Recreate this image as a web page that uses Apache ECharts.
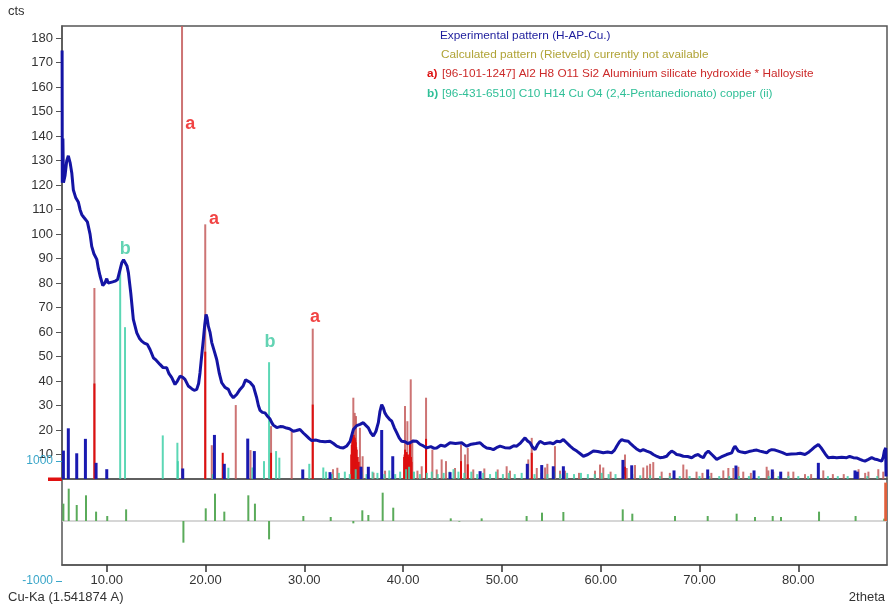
<!DOCTYPE html>
<html>
<head>
<meta charset="utf-8">
<title>XRD pattern H-AP-Cu</title>
<script src="https://cdn.jsdelivr.net/npm/echarts@6/dist/echarts.min.js"></script>
<style>
  html, body { margin: 0; padding: 0; background: #fff; }
  #chart { width: 891px; height: 609px; }
</style>
</head>
<body>
<div id="chart"></div>
<script>
// tick labels
const xTicks = [10, 20, 30, 40, 50, 60, 70, 80];
const yTicks = [10, 20, 30, 40, 50, 60, 70, 80, 90, 100, 110, 120, 130, 140, 150, 160, 170, 180];
const diffTicks = [-1000, 1000];

// experimental pattern [2theta, cts]
const experimental = [
  [5.48, 175], [5.5, 121], [5.56, 139], [5.62, 121], [5.78, 124], [5.95, 130], [6.11, 132], [6.3, 129],
  [6.46, 125], [6.62, 118], [6.85, 115], [7.13, 113], [7.3, 110], [7.47, 108], [7.65, 107], [7.8, 107],
  [8.04, 105], [8.31, 100], [8.48, 95], [8.7, 92], [8.99, 89.7], [9.15, 86], [9.32, 83], [9.6, 79],
  [9.8, 80], [10.0, 81.8], [10.15, 80], [10.33, 80.2], [10.6, 80.5], [10.84, 80.8], [11.1, 81.5],
  [11.28, 82.2], [11.52, 88.3], [11.7, 89.5], [11.85, 89.4], [12.05, 87], [12.19, 84.3], [12.43, 76],
  [12.69, 65.2], [13.04, 59.7], [13.3, 57.5], [13.54, 56.3], [13.8, 55.5], [14.11, 55], [14.38, 52.9],
  [14.72, 49.5], [15.0, 48.5], [15.39, 46.8], [15.7, 45.5], [16.07, 45.4], [16.3, 43], [16.58, 41.4],
  [16.91, 38.6], [17.15, 40], [17.42, 42], [17.7, 41.5], [17.92, 40.7], [18.25, 38], [18.6, 36.9],
  [18.85, 36.2], [19.11, 36.6], [19.3, 39], [19.44, 43.4], [19.6, 50], [19.78, 57], [19.92, 63],
  [20.05, 67.2], [20.15, 66], [20.28, 62.4], [20.45, 60], [20.63, 55.7], [20.9, 52], [21.13, 48.8],
  [21.4, 43], [21.64, 39.3], [21.95, 37.5], [22.31, 36.6], [22.55, 34.5], [22.81, 33.2], [23.15, 34.5],
  [23.49, 36.6], [23.8, 38], [24.05, 40.5], [24.23, 40.7], [24.5, 39.5], [24.84, 37.9], [25.17, 33.3],
  [25.35, 30], [25.52, 28], [25.75, 27.2], [26.02, 27], [26.3, 25.5], [26.53, 24.5], [26.7, 23],
  [26.86, 22], [27.21, 21], [27.55, 21.4], [27.87, 21.3], [28.2, 20.8], [28.5, 20.5], [28.89, 19.5],
  [29.2, 19.8], [29.56, 20.2], [29.9, 18.8], [30.24, 17.5], [30.5, 16.5], [30.75, 15.7], [31.2, 15.9],
  [31.59, 15.4], [32.1, 15.2], [32.6, 15.4], [32.95, 14.5], [33.28, 13.4], [33.6, 12.9], [33.95, 12.7],
  [34.3, 13.5], [34.63, 15.4], [34.96, 20.2], [35.3, 21.8], [35.64, 22.3], [35.97, 23], [36.2, 22],
  [36.48, 20.9], [36.7, 19], [36.98, 17.5], [37.25, 19.5], [37.49, 23], [37.65, 27.5], [37.83, 30.4],
  [38.0, 29], [38.15, 27], [38.34, 25.7], [38.6, 24.5], [38.85, 23.6], [39.1, 21], [39.35, 18.9],
  [39.6, 16.8], [39.86, 15.4], [40.2, 15.2], [40.45, 14.5], [40.7, 14.8], [41.0, 15.5], [41.38, 15.4],
  [41.7, 14.2], [42.05, 13.5], [42.39, 12.7], [42.8, 13.2], [43.1, 12.6], [43.4, 12.7], [43.8, 13.8],
  [44.24, 13.4], [44.75, 14.8], [45.3, 14.5], [45.93, 14.8], [46.2, 14], [46.44, 13.4], [46.9, 14.2],
  [47.35, 14.5], [47.79, 14.8], [48.1, 13.6], [48.46, 12.7], [48.8, 12.5], [49.13, 12], [49.45, 12.8],
  [49.81, 13.4], [50.3, 12.8], [50.82, 12.7], [51.2, 13.6], [51.5, 13.4], [51.9, 14.8], [52.34, 16.8],
  [52.6, 15.5], [52.85, 14.8], [53.1, 13], [53.35, 12], [53.6, 14], [53.86, 15.4], [54.3, 14.4],
  [54.87, 14.8], [55.2, 14.4], [55.55, 15.4], [55.9, 15.2], [56.22, 16.1], [56.5, 15], [56.9, 13.4],
  [57.2, 12.4], [57.58, 11.4], [57.9, 10.4], [58.25, 9.3], [58.7, 10], [59.26, 11.4], [59.7, 11.2],
  [60.26, 10.7], [60.7, 11], [61.11, 10.7], [61.4, 11.8], [61.62, 13.4], [61.9, 15.2], [62.13, 16.1],
  [62.45, 15.6], [62.79, 15.4], [63.05, 14.3], [63.3, 13.4], [63.6, 12.4], [63.98, 11.4], [64.3, 12],
  [64.66, 11.4], [65.0, 10.9], [65.32, 10], [65.7, 9.2], [66.0, 8.7], [66.35, 8.9], [66.68, 9.3],
  [66.95, 10.6], [67.18, 11.4], [67.45, 10.8], [67.69, 10], [68.0, 9.8], [68.36, 9.3], [68.8, 9.2],
  [69.21, 8.7], [69.55, 9.6], [69.88, 10], [70.1, 9.2], [70.39, 8.7], [70.65, 10.6], [70.89, 11.4],
  [71.3, 9.8], [71.74, 8], [72.2, 9], [72.75, 10], [73.26, 10.7], [73.45, 12.5], [73.59, 13.4],
  [73.93, 11.4], [74.25, 11], [74.61, 10.7], [75.0, 11.2], [75.45, 11.6], [75.8, 11.8], [76.12, 11.4],
  [76.5, 11], [76.8, 10.7], [77.05, 11.6], [77.31, 12], [77.65, 11.8], [77.97, 11.4], [78.4, 10.8],
  [78.82, 10], [79.3, 10.2], [79.84, 10.3], [80.2, 10.5], [80.68, 10], [81.0, 10.8], [81.36, 12],
  [81.7, 13.2], [82.03, 14.1], [82.3, 12.8], [82.54, 11.4], [82.8, 9.8], [83.04, 8.7], [83.5, 8.9],
  [83.89, 8.7], [84.4, 8.9], [84.9, 8.7], [85.2, 9.2], [85.57, 8.7], [85.9, 8.6], [86.25, 8],
  [86.5, 7.6], [86.75, 7.3], [87.1, 8], [87.43, 8.7], [87.7, 8.2], [87.94, 8], [88.2, 7.6],
  [88.44, 7.3], [88.6, 9], [88.71, 11.4], [88.85, 12.7], [88.88, 1]
];

// phase a (Halloysite) reference lines: full height and strong part
const haloysiteLines = [
  [8.75, 78], [17.62, 200], [19.97, 104], [20.63, 13.8], [23.06, 30.2], [24.55, 11.8], [26.63, 21.6],
  [28.72, 19.5], [30.85, 61.4], [32.9, 4], [33.34, 4.6], [34.96, 33.2], [35.1, 27], [35.23, 25.7],
  [35.63, 20.9], [35.9, 9.3], [37.0, 2.6], [38.17, 3.4], [40.19, 29.8], [40.43, 23.6], [40.77, 40.7],
  [40.93, 16.1], [41.45, 3.4], [41.88, 5.2], [42.32, 33.2], [42.96, 12], [43.4, 3.9], [43.9, 8],
  [44.34, 7.3], [45.25, 4.5], [45.86, 14.1], [46.27, 10], [46.54, 12.7], [47.1, 3.9], [48.22, 4.3],
  [49.57, 3.9], [50.48, 5.2], [50.82, 3.4], [52.67, 8], [53.02, 16.8], [53.53, 4.5], [54.37, 4.7],
  [54.6, 6.2], [55.37, 13.4], [55.88, 3.4], [56.39, 3.4], [57.8, 2.5], [59.42, 3.4], [59.93, 5.9],
  [60.26, 4.7], [61.0, 3], [62.46, 10], [62.63, 4.5], [63.47, 5.7], [64.31, 4.7], [64.7, 5.5],
  [65.0, 6.2], [65.32, 6.9], [66.17, 3], [67.0, 2.5], [68.36, 5.9], [68.7, 3.9], [69.7, 3],
  [70.3, 2.5], [71.2, 2.5], [72.41, 3.5], [72.92, 4.5], [73.43, 4.5], [73.93, 5], [74.43, 3],
  [75.2, 2.5], [76.8, 5], [76.97, 3.5], [77.47, 3], [78.99, 3], [79.5, 3], [80.68, 2], [81.3, 2],
  [82.53, 3.5], [83.5, 2], [84.6, 2], [86.1, 4], [86.77, 2.5], [87.1, 3], [88.1, 4], [88.6, 3]
];
const haloysiteStrong = [
  [8.75, 39], [19.97, 52], [21.74, 10.7], [26.63, 10.7], [30.85, 30.4], [34.75, 10], [34.8, 14],
  [34.85, 16], [34.9, 18], [34.95, 17], [35.0, 18], [35.05, 17], [35.1, 16.8], [35.15, 16],
  [35.2, 15], [35.25, 13], [35.3, 12], [35.4, 9], [35.5, 7], [35.7, 5], [40.1, 9], [40.15, 10],
  [40.2, 12], [40.25, 10], [40.3, 9.5], [40.35, 11], [40.4, 10], [40.5, 9], [40.6, 10], [40.7, 14.8],
  [40.8, 9], [40.85, 7], [42.32, 16.4], [45.86, 7.3], [46.54, 6], [53.02, 10.7], [62.46, 5]
];

// phase b (copper acetylacetonate) reference lines
const copperLines = [
  [11.36, 86], [11.85, 62], [15.67, 17.8], [17.15, 14.8], [17.2, 7.3], [20.73, 2], [22.31, 4.6],
  [24.74, 4.7], [25.92, 7.3], [26.43, 47.7], [27.14, 11.4], [27.47, 8.7], [30.5, 6.2], [31.92, 4.7],
  [32.2, 3], [32.8, 2], [33.5, 2.5], [34.1, 3], [34.6, 2], [35.2, 4], [35.8, 3], [36.3, 2], [36.9, 3],
  [37.4, 2.5], [38.1, 2], [38.6, 3.5], [39.2, 2], [39.7, 3], [40.3, 4], [40.6, 5], [41.1, 3],
  [41.7, 2], [42.4, 2.5], [42.9, 3], [43.5, 2], [44.1, 2.5], [44.7, 3], [45.1, 4], [45.6, 3],
  [46.2, 2.5], [46.9, 3], [47.5, 2], [48.1, 2.5], [48.8, 2], [49.4, 3], [50.1, 2], [50.7, 2.5],
  [51.3, 2], [52.0, 2.5], [52.6, 3], [53.3, 2], [54.0, 2.5], [54.6, 2], [55.3, 3], [55.9, 2],
  [56.6, 2.5], [57.3, 2], [58.0, 2.5], [58.7, 2], [59.4, 2], [60.1, 2.5], [60.8, 2], [61.5, 2],
  [62.3, 1.5], [63.2, 2], [64.0, 1.5], [65.0, 1.5], [66.0, 1.2], [67.0, 1.2], [68.0, 1.2],
  [69.0, 1.2], [70.0, 1.2], [71.0, 1.2], [72.0, 1.2], [73.0, 1.2], [74.0, 1.2], [75.0, 1.2],
  [76.0, 1.2], [77.0, 1.2], [78.0, 1.2], [79.0, 1.2], [80.0, 1.2], [81.0, 1.2], [82.0, 1.2],
  [83.0, 1.2], [84.0, 1.2], [85.0, 1.2], [86.0, 1.2], [87.0, 1.2], [88.0, 1.2]
];

// peak list of the measured pattern
const peakList = [
  [5.61, 11.6], [6.11, 20.7], [6.96, 10.5], [7.84, 16.4], [8.92, 6.6], [10.0, 4], [17.69, 4.3],
  [20.9, 18], [21.9, 6.2], [24.27, 16.5], [24.94, 11.4], [29.84, 3.9], [32.6, 2.8], [35.74, 5],
  [36.48, 5], [37.83, 20], [38.95, 9.3], [44.75, 2.8], [47.79, 3.2], [52.57, 6.2], [54.03, 5.7],
  [55.2, 5.2], [56.22, 5.2], [62.25, 7.8], [63.14, 5.6], [67.42, 3.5], [70.83, 3.9], [73.69, 5.5],
  [75.52, 3.5], [77.37, 3.9], [78.22, 3], [82.03, 6.6], [85.74, 3.5], [85.97, 3]
];

// lower panel: difference sticks
const diffLines = [
  [5.61, 289], [6.15, 539], [6.96, 267], [7.9, 428], [8.92, 156], [10.05, 83], [11.96, 194],
  [17.76, -361], [20.02, 211], [20.96, 456], [21.9, 156], [24.33, 428], [25.0, 289], [26.43, -306],
  [29.9, 83], [32.67, 67], [34.96, -39], [35.87, 178], [36.48, 100], [37.93, 472], [39.0, 222],
  [44.82, 44], [45.69, -11], [47.95, 44], [52.5, 83], [54.06, 139], [56.22, 150], [62.23, 194],
  [63.2, 122], [67.52, 83], [70.83, 83], [73.76, 122], [75.62, 67], [77.41, 83], [78.25, 67],
  [82.1, 156], [85.8, 83], [88.7, 39]
];
const diffEdge = [[88.85, 640]];

// phase labels on the plot
const phaseMarks = [
  [18.45, 145, 'a'], [20.86, 106, 'a'], [11.86, 94, 'b'], [26.53, 56, 'b'], [31.08, 66, 'a']
];

const X_MIN = 5.47, X_MAX = 88.98;
const FONT = 'Liberation Sans, Arial, sans-serif';

function sticks(width) {
  return function (params, api) {
    const p0 = api.coord([api.value(0), 0]);
    const p1 = api.coord([api.value(0), api.value(1)]);
    return {
      type: 'line',
      shape: { x1: p0[0], y1: p0[1], x2: p1[0], y2: p1[1] },
      style: { stroke: api.visual('color'), lineWidth: width }
    };
  };
}

function stickSeries(name, data, color, width, z, gridIdx) {
  return {
    name: name,
    type: 'custom',
    xAxisIndex: gridIdx || 0,
    yAxisIndex: gridIdx || 0,
    data: data,
    encode: { x: 0, y: 1 },
    clip: true,
    z: z,
    itemStyle: { color: color },
    renderItem: sticks(width),
    silent: true
  };
}

const chart = echarts.init(document.getElementById('chart'));

const option = {
  animation: false,
  textStyle: { fontFamily: FONT },
  grid: [
    { left: 62, right: 4, top: 26, bottom: 130, show: true, borderColor: '#555', borderWidth: 1.5 },
    { left: 62, right: 4, top: 479, bottom: 44, show: true, borderColor: '#555', borderWidth: 1.5 },
    { left: 62, right: 4, top: 461, bottom: 28 }
  ],
  xAxis: [
    { type: 'value', gridIndex: 0, min: X_MIN, max: X_MAX, axisLine: { show: false },
      axisTick: { show: false }, axisLabel: { show: false }, splitLine: { show: false } },
    { type: 'value', gridIndex: 1, min: X_MIN, max: X_MAX, position: 'bottom',
      axisLine: { show: true, onZero: false, lineStyle: { color: '#555', width: 1.5 } },
      axisTick: { show: true, length: 7, customValues: xTicks,
        lineStyle: { color: '#333', width: 1.5 } },
      axisLabel: { show: true, customValues: xTicks, color: '#333', fontSize: 13, margin: 9,
        formatter: function (v) { return v.toFixed(2); } },
      splitLine: { show: false } },
    { type: 'value', gridIndex: 2, min: X_MIN, max: X_MAX, show: false }
  ],
  yAxis: [
    { type: 'value', gridIndex: 0, min: 0, max: 185,
      axisLine: { show: true, lineStyle: { color: '#555', width: 1.5 } },
      axisTick: { show: true, length: 6, customValues: yTicks, lineStyle: { color: '#555' } },
      axisLabel: { customValues: yTicks, color: '#333', fontSize: 13, margin: 9 },
      splitLine: { show: false } },
    { type: 'value', gridIndex: 1, min: 0, max: 1, show: false },
    { type: 'value', gridIndex: 2, min: -1000, max: 1000,
      axisLine: { show: false },
      axisTick: { show: true, length: 6, customValues: diffTicks, lineStyle: { color: '#3aa6c9' } },
      axisLabel: { customValues: diffTicks, color: '#3aa6c9', fontSize: 12, margin: 9,
        formatter: function (v) { return String(v); } },
      splitLine: { show: false } }
  ],
  graphic: [
    { type: 'text', left: 8, top: 5, style: { text: 'cts', fill: '#333', font: '13px ' + FONT } },
    { type: 'text', left: 8, top: 591, style: { text: 'Cu-Ka (1.541874 A)', fill: '#333', font: '13px ' + FONT } },
    { type: 'text', right: 6, top: 591, style: { text: '2theta', fill: '#333', font: '13px ' + FONT } },
    { type: 'rect', shape: { x: 48, y: 477.5, width: 14, height: 3.5 }, style: { fill: '#e01010' } },
    { type: 'text', left: 440, top: 30, style: { text: 'Experimental pattern (H-AP-Cu.)', fill: '#1c1c9c', font: '11.8px ' + FONT } },
    { type: 'text', left: 441, top: 49, style: { text: 'Calculated pattern (Rietveld) currently not available', fill: '#b0a336', font: '11.8px ' + FONT } },
    { type: 'text', left: 427, top: 68, style: { text: 'a)', fill: '#dd1111', font: 'bold 11.8px ' + FONT } },
    { type: 'text', left: 442, top: 68, style: { text: '[96-101-1247] Al2 H8 O11 Si2 Aluminium silicate hydroxide * Halloysite', fill: '#cc2a2a', font: '11.8px ' + FONT } },
    { type: 'text', left: 427, top: 88, style: { text: 'b)', fill: '#2fbf97', font: 'bold 11.8px ' + FONT } },
    { type: 'text', left: 442, top: 88, style: { text: '[96-431-6510] C10 H14 Cu O4 (2,4-Pentanedionato) copper (ii)', fill: '#2fbf97', font: '11.8px ' + FONT } }
  ],
  series: [
    stickSeries('Halloysite', haloysiteLines, 'rgba(196,92,92,0.85)', 2, 2),
    stickSeries('Halloysite strong', haloysiteStrong, '#dd1010', 2, 3),
    stickSeries('Copper(ii) acac', copperLines, 'rgba(64,208,168,0.85)', 2, 4),
    stickSeries('Peak list', peakList, '#1a1ab0', 3, 5),
    stickSeries('Difference', diffLines, '#5aab5a', 2, 5, 2),
    stickSeries('Difference edge', diffEdge, '#e0603c', 3, 5, 2),
    {
      name: 'Zero', type: 'line', xAxisIndex: 2, yAxisIndex: 2, data: [], silent: true, z: 1,
      markLine: { symbol: 'none', silent: true, label: { show: false },
        lineStyle: { color: '#c8c8c8', width: 1.5, type: 'solid' }, data: [{ yAxis: 0 }] }
    },
    {
      name: 'Experimental pattern', type: 'line', data: experimental, showSymbol: false,
      smooth: false, clip: true, z: 10, silent: true,
      lineStyle: { color: '#1414a4', width: 3 }
    },
    {
      name: 'Phase marks', type: 'scatter', symbolSize: 0, z: 11, silent: true,
      data: phaseMarks.map(function (m) {
        return {
          value: [m[0], m[1]],
          label: { show: true, formatter: m[2], position: 'inside', fontSize: 18, fontWeight: 'bold',
            color: m[2] === 'a' ? '#ee1515' : '#3cc8a0' }
        };
      })
    }
  ]
};

chart.setOption(option);
</script>
</body>
</html>
